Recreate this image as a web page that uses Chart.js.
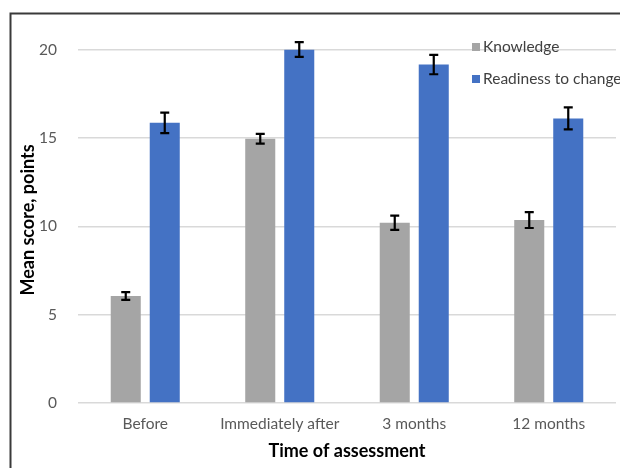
<!DOCTYPE html>
<html>
<head>
<meta charset="utf-8">
<script src="https://cdn.jsdelivr.net/npm/chart.js@4.4.0/dist/chart.umd.min.js"></script>
<style>
  html, body { margin: 0; padding: 0; background: #fff; }
  #wrap { width: 620px; height: 468px; position: relative; }
</style>
</head>
<body>
<div id="wrap"><canvas id="c" width="620" height="468"></canvas></div>
<script>
const categories = ["Before", "Immediately after", "3 months", "12 months"];
const seriesNames = ["Knowledge", "Readiness to change"];
const knowledge = [6.05, 14.95, 10.2, 10.35];
const readiness = [15.85, 20.0, 19.15, 16.1];
const knowledgeErr = [0.22, 0.28, 0.4, 0.45];
const readinessErr = [0.58, 0.42, 0.55, 0.62];
const yTicks = [0, 5, 10, 15, 20];
const xTitle = "Time of assessment";
const yTitle = "Mean score, points";

const FONT = "Lato, 'Open Sans', sans-serif";
const colors = ["#A5A5A5", "#4472C4"];

const frame = {
  id: 'frame',
  beforeDraw(chart) {
    const ctx = chart.ctx;
    ctx.save();
    ctx.fillStyle = '#fff';
    ctx.fillRect(0, 0, chart.width, chart.height);
    ctx.strokeStyle = '#3a3a3a';
    ctx.lineWidth = 2;
    ctx.beginPath();
    ctx.moveTo(10.5, chart.height);
    ctx.lineTo(10.5, 13.5);
    ctx.lineTo(chart.width, 13.5);
    ctx.stroke();
    ctx.restore();
  }
};

const errorBars = {
  id: 'errorBars',
  afterDatasetsDraw(chart) {
    const ctx = chart.ctx;
    const y = chart.scales.y;
    const errs = [knowledgeErr, readinessErr];
    ctx.save();
    ctx.strokeStyle = '#000';
    ctx.lineWidth = 2.2;
    chart.data.datasets.forEach((ds, di) => {
      const meta = chart.getDatasetMeta(di);
      meta.data.forEach((bar, i) => {
        const v = ds.data[i], e = errs[di][i];
        const x = bar.x;
        const yt = y.getPixelForValue(v + e), yb = y.getPixelForValue(v - e);
        ctx.beginPath();
        ctx.moveTo(x, yt); ctx.lineTo(x, yb);
        ctx.moveTo(x - 4.5, yt); ctx.lineTo(x + 4.5, yt);
        ctx.moveTo(x - 4.5, yb); ctx.lineTo(x + 4.5, yb);
        ctx.stroke();
      });
    });
    ctx.restore();
  }
};

const labelsPlugin = {
  id: 'labelsPlugin',
  afterDraw(chart) {
    const ctx = chart.ctx;
    const a = chart.chartArea;
    ctx.save();
    ctx.fillStyle = '#000';
    ctx.font = "bold 18px " + FONT;
    ctx.textAlign = 'center';
    ctx.textBaseline = 'middle';
    ctx.fillText(xTitle, (a.left + a.right) / 2, 451);
    ctx.translate(28, 220);
    ctx.rotate(-Math.PI / 2);
    ctx.fillText(yTitle, 0, 0);
    ctx.restore();
    ctx.save();
    ctx.font = "15.5px " + FONT;
    ctx.textAlign = 'left';
    ctx.textBaseline = 'middle';
    const ys = [47, 79];
    chart.data.datasets.forEach((ds, i) => {
      ctx.fillStyle = ds.backgroundColor;
      ctx.fillRect(472, ys[i] - 4, 8, 8);
      ctx.fillStyle = '#404040';
      ctx.fillText(ds.label, 483, ys[i]);
    });
    ctx.restore();
  }
};

new Chart(document.getElementById('c'), {
  type: 'bar',
  data: {
    labels: categories,
    datasets: [
      { label: seriesNames[0], data: knowledge, backgroundColor: colors[0] },
      { label: seriesNames[1], data: readiness, backgroundColor: colors[1] }
    ]
  },
  options: {
    responsive: false,
    animation: false,
    devicePixelRatio: 1,
    layout: { padding: { top: 49.5, right: 4, left: 0, bottom: 0 } },
    datasets: { bar: { categoryPercentage: 0.58, barPercentage: 0.77 } },
    plugins: { legend: { display: false }, tooltip: { enabled: false } },
    scales: {
      x: {
        grid: { display: false, drawTicks: false },
        border: { display: false },
        ticks: { color: '#595959', font: { family: FONT, size: 15.5 }, padding: 12, maxRotation: 0 },
        afterFit(s) { s.height = 65; }
      },
      y: {
        min: 0, max: 20,
        afterBuildTicks(s) { s.ticks = yTicks.map(v => ({ value: v })); },
        grid: { color: '#D9D9D9', lineWidth: 1.5, drawTicks: false },
        border: { display: false },
        ticks: { color: '#595959', font: { family: FONT, size: 15.5 }, padding: 21 },
        afterFit(s) { s.width = 78; }
      }
    }
  },
  plugins: [frame, errorBars, labelsPlugin]
});
</script>
</body>
</html>
